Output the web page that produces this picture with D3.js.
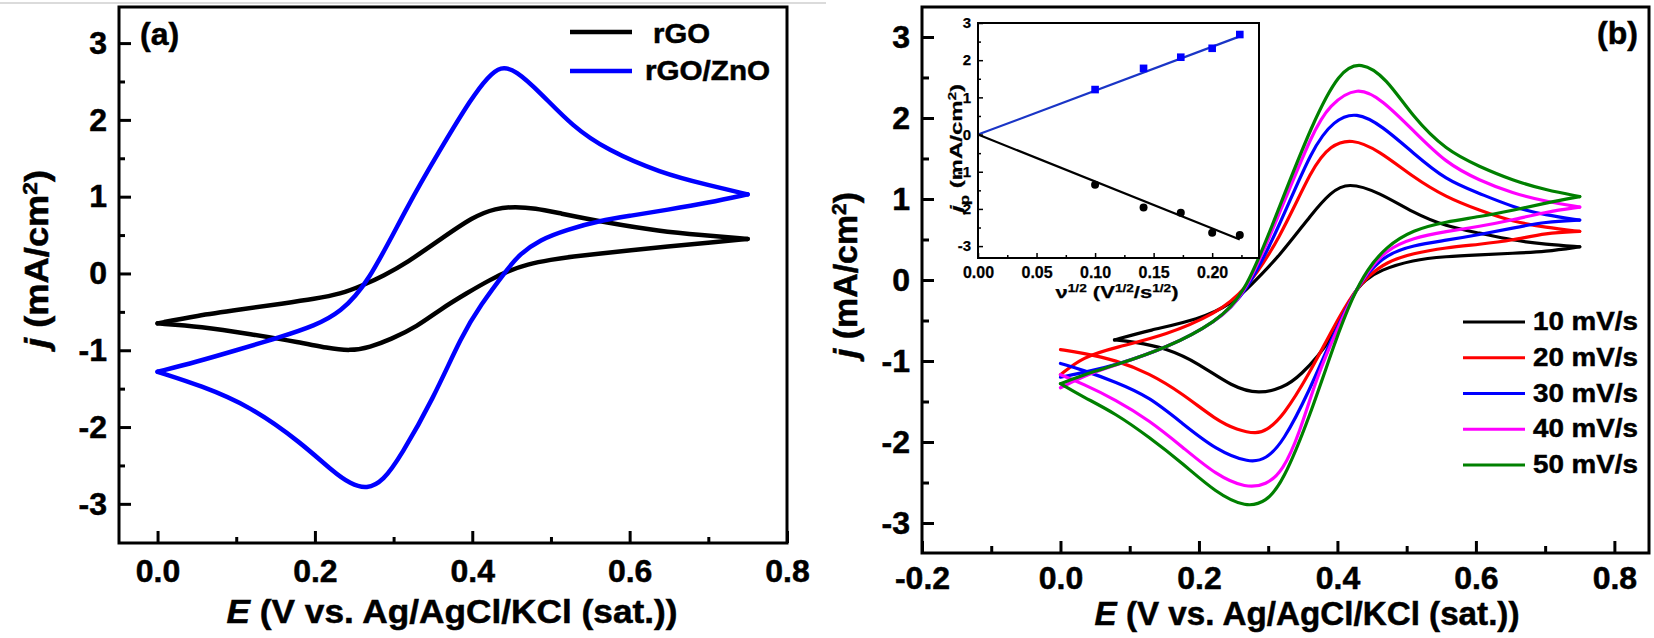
<!DOCTYPE html>
<html>
<head>
<meta charset="utf-8">
<script src="https://cdn.jsdelivr.net/npm/d3@7"></script>
<style>
  body { margin: 0; background: #fff; }
  svg { display: block; }
  text { font-family: "Liberation Sans", Arial, sans-serif; font-weight: bold; fill: #000; stroke: #000; stroke-width: 0.5px; }
</style>
</head>
<body>
<svg id="chart" width="1654" height="638"></svg>
<script>
// ---- panel (a): CV of rGO and rGO/ZnO, [E (V), j (mA/cm2)] ----
var rgoAnodic = [[0,-0.65],[0.05,-0.55],[0.105,-0.47],[0.16,-0.39],[0.20,-0.33],[0.232,-0.27],[0.262,-0.15],[0.287,-0.03],[0.317,0.14],[0.359,0.44],[0.401,0.74],[0.43,0.85],[0.455,0.87],[0.48,0.85],[0.508,0.79],[0.571,0.66],[0.639,0.55],[0.69,0.50],[0.75,0.45]];
var rgoCathodic = [[0.75,0.45],[0.70,0.40],[0.648,0.35],[0.60,0.30],[0.563,0.26],[0.528,0.22],[0.50,0.18],[0.47,0.12],[0.445,0.03],[0.423,-0.08],[0.394,-0.25],[0.359,-0.47],[0.33,-0.69],[0.296,-0.86],[0.27,-0.96],[0.245,-1.01],[0.215,-0.97],[0.182,-0.90],[0.118,-0.79],[0.055,-0.69],[0,-0.65]];
var znoAnodic = [[0,-1.28],[0.05,-1.15],[0.10,-1.00],[0.156,-0.83],[0.20,-0.68],[0.232,-0.51],[0.267,-0.14],[0.317,0.87],[0.359,1.61],[0.40,2.30],[0.42,2.56],[0.436,2.70],[0.455,2.65],[0.486,2.36],[0.528,1.91],[0.571,1.61],[0.639,1.31],[0.70,1.15],[0.75,1.03]];
var znoCathodic = [[0.75,1.03],[0.70,0.92],[0.648,0.83],[0.60,0.75],[0.563,0.69],[0.52,0.57],[0.486,0.44],[0.46,0.25],[0.444,0.05],[0.41,-0.42],[0.387,-0.80],[0.35,-1.64],[0.309,-2.38],[0.287,-2.70],[0.266,-2.81],[0.245,-2.74],[0.224,-2.59],[0.182,-2.20],[0.118,-1.73],[0.055,-1.46],[0,-1.28]];
var legendA = ['rGO', 'rGO/ZnO'];

// ---- panel (b): rGO/ZnO at different scan rates ----
var scanRates = ['10 mV/s', '20 mV/s', '30 mV/s', '40 mV/s', '50 mV/s'];
var rateColors = ['#000000', '#ff0000', '#0000ff', '#ff00ff', '#008000'];
var b10Anodic = [[0.078,-0.74],[0.128,-0.62],[0.2,-0.49],[0.248,-0.29],[0.273,-0.08],[0.316,0.29],[0.364,0.83],[0.39,1.08],[0.415,1.21],[0.461,1.08],[0.509,0.83],[0.557,0.66],[0.605,0.58],[0.653,0.49],[0.701,0.44],[0.75,0.41]];
var b10Cathodic = [[0.75,0.41],[0.701,0.35],[0.653,0.33],[0.605,0.31],[0.557,0.29],[0.509,0.25],[0.461,0.12],[0.44,0.0],[0.422,-0.16],[0.393,-0.74],[0.345,-1.2],[0.321,-1.33],[0.287,-1.41],[0.248,-1.32],[0.2,-1.03],[0.153,-0.84],[0.104,-0.76],[0.078,-0.74]];
var b20Anodic = [[0,-1.17],[0.032,-0.95],[0.08,-0.83],[0.153,-0.68],[0.225,-0.41],[0.265,-0.15],[0.316,0.49],[0.364,1.4],[0.39,1.66],[0.42,1.75],[0.46,1.6],[0.509,1.27],[0.557,1.02],[0.605,0.86],[0.653,0.72],[0.701,0.65],[0.75,0.6]];
var b20Cathodic = [[0.75,0.6],[0.701,0.58],[0.653,0.49],[0.605,0.44],[0.557,0.4],[0.509,0.33],[0.47,0.22],[0.445,0.05],[0.425,-0.13],[0.393,-0.6],[0.36,-1.15],[0.321,-1.69],[0.297,-1.86],[0.283,-1.90],[0.255,-1.85],[0.225,-1.73],[0.176,-1.4],[0.128,-1.15],[0.08,-0.99],[0.032,-0.9],[0,-0.86]];
var b30Anodic = [[0,-1.2],[0.04,-1.13],[0.08,-1.05],[0.153,-0.84],[0.225,-0.52],[0.268,-0.17],[0.316,0.66],[0.364,1.64],[0.395,1.97],[0.427,2.08],[0.465,1.9],[0.509,1.57],[0.557,1.23],[0.605,1.07],[0.653,0.9],[0.701,0.8],[0.75,0.74]];
var b30Cathodic = [[0.75,0.74],[0.701,0.72],[0.653,0.64],[0.605,0.56],[0.557,0.49],[0.509,0.43],[0.47,0.31],[0.445,0.1],[0.425,-0.14],[0.39,-0.75],[0.36,-1.36],[0.321,-2.01],[0.297,-2.21],[0.273,-2.26],[0.225,-2.1],[0.176,-1.77],[0.128,-1.44],[0.08,-1.26],[0.032,-1.11],[0,-1.03]];
var b40Anodic = [[0,-1.33],[0.04,-1.16],[0.08,-1.05],[0.153,-0.84],[0.225,-0.52],[0.268,-0.17],[0.316,0.82],[0.364,1.82],[0.388,2.16],[0.429,2.40],[0.465,2.22],[0.509,1.85],[0.557,1.44],[0.605,1.23],[0.653,1.07],[0.701,0.97],[0.75,0.9]];
var b40Cathodic = [[0.75,0.9],[0.701,0.84],[0.653,0.74],[0.605,0.66],[0.557,0.6],[0.509,0.52],[0.47,0.37],[0.445,0.12],[0.425,-0.15],[0.40,-0.6],[0.37,-1.2],[0.345,-1.9],[0.321,-2.36],[0.297,-2.53],[0.268,-2.57],[0.225,-2.41],[0.176,-2.06],[0.128,-1.73],[0.08,-1.48],[0.032,-1.28],[0,-1.17]];
var b50Anodic = [[0,-1.28],[0.04,-1.15],[0.08,-1.05],[0.153,-0.84],[0.225,-0.52],[0.268,-0.16],[0.316,0.9],[0.364,1.94],[0.403,2.58],[0.434,2.70],[0.47,2.5],[0.509,2.01],[0.557,1.6],[0.605,1.4],[0.653,1.23],[0.701,1.11],[0.75,1.03]];
var b50Cathodic = [[0.75,1.03],[0.701,0.95],[0.653,0.86],[0.605,0.78],[0.557,0.72],[0.509,0.62],[0.47,0.41],[0.442,0.12],[0.422,-0.21],[0.398,-0.72],[0.36,-1.69],[0.321,-2.5],[0.297,-2.74],[0.268,-2.81],[0.225,-2.63],[0.176,-2.26],[0.128,-1.94],[0.08,-1.65],[0.032,-1.44],[0,-1.28]];

// ---- inset: peak current vs sqrt(scan rate) ----
var sqrtRate = [0.1, 0.1414, 0.1732, 0.2, 0.2236];
var jpAnodic = [1.21, 1.78, 2.08, 2.32, 2.69];
var jpCathodic = [-1.35, -1.96, -2.10, -2.64, -2.70];
var fitX = [0, 0.2236];
var fitAnodic = [0, 2.64];
var fitCathodic = [0, -2.82];

var svg = d3.select('#chart');

// faint rule at the very top of the left half
svg.append('line').attr('x1', 0).attr('x2', 826).attr('y1', 3).attr('y2', 3)
    .attr('stroke', '#cfcfcf').attr('stroke-width', 1.5);

function styleAxis(g, size, width, textStroke) {
    g.attr('font-size', null).attr('font-family', null);
    g.select('.domain').remove();
    g.selectAll('line').attr('stroke', '#000').attr('stroke-width', width);
    g.selectAll('text').style('font-size', size + 'px').style('stroke-width', textStroke + 'px');
}

function addAxes(x, y, o) {
    var bottom = y.range()[0], left = x.range()[0];
    var ts = o.textStroke === undefined ? 0.5 : o.textStroke;
    svg.append('g').attr('transform', 'translate(0,' + bottom + ')')
        .call(d3.axisBottom(x).tickValues(o.xMinor).tickSizeInner(-o.minor).tickSizeOuter(0).tickFormat(function() { return ''; }))
        .call(styleAxis, o.font, o.tickW, ts);
    svg.append('g').attr('transform', 'translate(0,' + bottom + ')')
        .call(d3.axisBottom(x).tickValues(o.xMajor).tickSizeInner(-o.major).tickSizeOuter(0).tickPadding(o.xPad).tickFormat(o.xFmt))
        .call(styleAxis, o.font, o.tickW, ts);
    svg.append('g').attr('transform', 'translate(' + left + ',0)')
        .call(d3.axisLeft(y).tickValues(o.yMinor).tickSizeInner(-o.minor).tickSizeOuter(0).tickFormat(function() { return ''; }))
        .call(styleAxis, o.yFont || o.font, o.tickW, ts);
    svg.append('g').attr('transform', 'translate(' + left + ',0)')
        .call(d3.axisLeft(y).tickValues(o.yMajor).tickSizeInner(-o.major).tickSizeOuter(0).tickPadding(o.yPad).tickFormat(function(d) { return String(d); }))
        .call(styleAxis, o.yFont || o.font, o.tickW, ts);
}

function frame(x, y, w, fill) {
    svg.append('rect')
        .attr('x', x.range()[0]).attr('y', y.range()[1])
        .attr('width', x.range()[1] - x.range()[0])
        .attr('height', y.range()[0] - y.range()[1])
        .attr('fill', fill || 'none').attr('stroke', '#000').attr('stroke-width', w);
}

// parts: [{t, i (italic), sup, sub}]
function addText(px, py, parts, size, anchor, rotate, len, stroke) {
    var t = svg.append('text')
        .attr('transform', 'translate(' + px + ',' + py + ')' + (rotate ? ' rotate(-90)' : ''))
        .attr('text-anchor', anchor)
        .style('font-size', size + 'px');
    if (stroke !== undefined) t.style('stroke-width', stroke + 'px');
    parts.forEach(function(p) {
        var s = t.append('tspan').text(p.t);
        if (p.i) s.style('font-style', 'italic');
        if (p.sup) s.attr('baseline-shift', 'super').style('font-size', '0.62em');
        if (p.sub) s.attr('baseline-shift', 'sub').style('font-size', '0.7em');
    });
    if (len) t.attr('textLength', len).attr('lengthAdjust', 'spacingAndGlyphs');
    return t;
}

// each sweep is single-valued in E; a B-spline smooths the hand-read points
function drawCurve(x, y, pts, color, w) {
    var line = d3.line()
        .x(function(d) { return x(d[0]); })
        .y(function(d) { return y(d[1]); })
        .curve(d3.curveBasis);
    svg.append('path').datum(pts)
        .attr('d', line)
        .attr('fill', 'none')
        .attr('stroke', color)
        .attr('stroke-width', w)
        .attr('stroke-linecap', 'round')
        .attr('stroke-linejoin', 'round');
}

var fmt1 = function(d) { return d.toFixed(1); };

// ================= panel (a) =================
var xA = d3.scaleLinear().domain([-0.049, 0.8]).range([119, 787]);
var yA = d3.scaleLinear().domain([-3.51, 3.47]).range([543, 7]);

drawCurve(xA, yA, rgoAnodic, '#000', 4.5);
drawCurve(xA, yA, rgoCathodic, '#000', 4.5);
drawCurve(xA, yA, znoAnodic, '#0000ff', 4.5);
drawCurve(xA, yA, znoCathodic, '#0000ff', 4.5);

addAxes(xA, yA, {
    xMajor: [0, 0.2, 0.4, 0.6, 0.8], xMinor: [0.1, 0.3, 0.5, 0.7],
    yMajor: [-3, -2, -1, 0, 1, 2, 3], yMinor: [-2.5, -1.5, -0.5, 0.5, 1.5, 2.5],
    major: 12, minor: 6, tickW: 3, font: 32, xPad: 16, yPad: 12, xFmt: fmt1
});
frame(xA, yA, 3);

addText(452, 623, [{t: 'E', i: true}, {t: ' (V vs. Ag/AgCl/KCl (sat.))'}], 34, 'middle', false, 451);
addText(48, 259, [{t: 'j', i: true}, {t: ' (mA/cm'}, {t: '2', sup: true}, {t: ')'}], 34, 'middle', true, 178);
addText(140, 45, [{t: '(a)'}], 32, 'start');

// legend (a)
[['#000', legendA[0], 32, 653, 43, 57], ['#0000ff', legendA[1], 71, 645, 80, 125]].forEach(function(l) {
    svg.append('line').attr('x1', 570).attr('x2', 632).attr('y1', l[2]).attr('y2', l[2])
        .attr('stroke', l[0]).attr('stroke-width', 4.5);
    addText(l[3], l[4], [{t: l[1]}], 27, 'start', false, l[5]);
});

// ================= panel (b) =================
var xB = d3.scaleLinear().domain([-0.2, 0.85]).range([922, 1649]);
var yB = d3.scaleLinear().domain([-3.37, 3.37]).range([553, 7]);

var bCurves = [[b10Anodic, b10Cathodic], [b20Anodic, b20Cathodic], [b30Anodic, b30Cathodic], [b40Anodic, b40Cathodic], [b50Anodic, b50Cathodic]];
bCurves.forEach(function(c, i) {
    drawCurve(xB, yB, c[0], rateColors[i], 3.2);
    drawCurve(xB, yB, c[1], rateColors[i], 3.2);
});

addAxes(xB, yB, {
    xMajor: [-0.2, 0, 0.2, 0.4, 0.6, 0.8], xMinor: [-0.1, 0.1, 0.3, 0.5, 0.7],
    yMajor: [-3, -2, -1, 0, 1, 2, 3], yMinor: [-2.5, -1.5, -0.5, 0.5, 1.5, 2.5],
    major: 12, minor: 7, tickW: 3, font: 32, xPad: 13, yPad: 12, xFmt: fmt1
});
frame(xB, yB, 3);

addText(1307, 625, [{t: 'E', i: true}, {t: ' (V vs. Ag/AgCl/KCl (sat.))'}], 33, 'middle', false, 425);
addText(857, 275, [{t: 'j', i: true}, {t: ' (mA/cm'}, {t: '2', sup: true}, {t: ')'}], 33, 'middle', true, 166);
addText(1597, 44, [{t: '(b)'}], 32, 'start');

// legend (b)
var legY = d3.scalePoint().domain(scanRates).range([322, 465]);
scanRates.forEach(function(s, i) {
    svg.append('line').attr('x1', 1463).attr('x2', 1525).attr('y1', legY(s)).attr('y2', legY(s))
        .attr('stroke', rateColors[i]).attr('stroke-width', 3.2);
    addText(1533, legY(s) + 8, [{t: s}], 26, 'start', false, 105);
});

// ================= inset =================
var xI = d3.scaleLinear().domain([0, 0.24]).range([978, 1259]);
var yI = d3.scaleLinear().domain([-3.32, 3]).range([258, 23]);
frame(xI, yI, 2, '#fff');

var fitLine = d3.line().x(function(d) { return xI(d[0]); }).y(function(d) { return yI(d[1]); });
svg.append('path').datum(d3.zip(fitX, fitAnodic)).attr('d', fitLine)
    .attr('fill', 'none').attr('stroke', '#1a35c6').attr('stroke-width', 2.2);
svg.append('path').datum(d3.zip(fitX, fitCathodic)).attr('d', fitLine)
    .attr('fill', 'none').attr('stroke', '#000').attr('stroke-width', 2.2);

svg.selectAll('.sq').data(d3.zip(sqrtRate, jpAnodic)).enter().append('rect')
    .attr('x', function(d) { return xI(d[0]) - 3.8; })
    .attr('y', function(d) { return yI(d[1]) - 3.8; })
    .attr('width', 7.6).attr('height', 7.6).attr('fill', '#0000ff');
svg.selectAll('.dot').data(d3.zip(sqrtRate, jpCathodic)).enter().append('circle')
    .attr('cx', function(d) { return xI(d[0]); })
    .attr('cy', function(d) { return yI(d[1]); })
    .attr('r', 4).attr('fill', '#000');

addAxes(xI, yI, {
    xMajor: [0, 0.05, 0.1, 0.15, 0.2], xMinor: [0.025, 0.075, 0.125, 0.175, 0.225],
    yMajor: [-3, -2, -1, 0, 1, 2, 3], yMinor: [-2.5, -1.5, -0.5, 0.5, 1.5, 2.5],
    major: 5, minor: 3, tickW: 1.5, font: 16, yFont: 15, xPad: 8.5, yPad: 7, textStroke: 0.25,
    xFmt: function(d) { return d.toFixed(2); }
});
frame(xI, yI, 2);

addText(1117, 298, [{t: 'ν'}, {t: '1/2', sup: true}, {t: ' (V'}, {t: '1/2', sup: true}, {t: '/s'}, {t: '1/2', sup: true}, {t: ')'}], 17, 'middle', false, 123, 0.25);
addText(962, 148, [{t: 'j', i: true}, {t: 'p', sub: true}, {t: ' (mA/cm'}, {t: '2', sup: true}, {t: ')'}], 17, 'middle', true, 128, 0.25);
</script>
</body>
</html>
